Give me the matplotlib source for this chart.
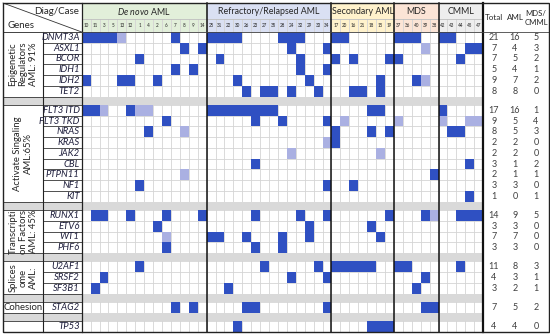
import numpy as np
import matplotlib
matplotlib.use("Agg")
import matplotlib.pyplot as plt
from matplotlib.patches import Rectangle
from matplotlib.colors import ListedColormap

plt.rcParams['font.family'] = ['Lato', 'DejaVu Sans']
plt.rcParams['mathtext.fontset'] = 'custom'
plt.rcParams['mathtext.rm'] = 'Lato'
plt.rcParams['mathtext.it'] = 'Lato:italic'

# ---------------- data ----------------
groups = ["$\\it{De\\ novo}$ AML", "Refractory/Relapsed AML", "Secondary AML", "MDS", "CMML"]
group_cases = [
    [10, 11, 3, 5, 13, 12, 1, 4, 2, 6, 7, 8, 9, 14],
    [25, 31, 22, 30, 26, 23, 27, 35, 28, 24, 32, 29, 33, 34],
    [17, 20, 16, 21, 18, 15, 19],
    [37, 36, 40, 39, 38],
    [42, 43, 44, 45, 47],
]
group_colors = ['#e2efda', '#dae0f3', '#fff2cc', '#fbe4d6', '#eeeeee']

row_genes = ["DNMT3A", "ASXL1", "BCOR", "IDH1", "IDH2", "TET2", None,
             "FLT3 ITD", "FLT3 TKD", "NRAS", "KRAS", "JAK2", "CBL", "PTPN11", "NF1", "KIT", None,
             "RUNX1", "ETV6", "WT1", "PHF6", None,
             "U2AF1", "SRSF2", "SF3B1", None,
             "STAG2", None,
             "TP53"]

categories = [
    ("Epigenetic\nRegulators\nAML: 91%", "DNMT3A", "TET2", 90),
    ("Activate Singaling\nAML:65%", "FLT3 ITD", "KIT", 90),
    ("Transcripti\non Factors\nAML: 45%", "RUNX1", "PHF6", 90),
    ("Splices\nome\nAML:", "U2AF1", "SF3B1", 90),
    ("Cohesion", "STAG2", "STAG2", 0),
    ("", "TP53", "TP53", 0),
]

# mutated cases (strong = dark blue, weak = light lavender)
strong = {
    "DNMT3A": [10, 11, 3, 5, 7, 25, 31, 22, 30, 28, 24, 32, 17, 20, 37, 36, 40, 42, 43],
    "ASXL1": [8, 14, 24, 34, 45, 47],
    "BCOR": [1, 31, 32, 17, 16, 19, 37, 44],
    "IDH1": [7, 9, 32, 34],
    "IDH2": [10, 13, 12, 2, 30, 29, 15, 40],
    "TET2": [26, 27, 35, 24, 33, 16, 21, 15],
    "FLT3 ITD": [10, 11, 12, 25, 31, 22, 30, 26, 23, 27, 35, 18, 15, 42],
    "FLT3 TKD": [6, 23, 28, 34],
    "NRAS": [4, 17, 18, 19, 43, 44],
    "KRAS": [17],
    "JAK2": [],
    "CBL": [23, 45],
    "PTPN11": [38],
    "NF1": [1, 34, 16],
    "KIT": [45],
    "RUNX1": [11, 3, 12, 6, 14, 23, 32, 34, 19, 39, 44, 45, 47],
    "ETV6": [2, 29, 18],
    "WT1": [25, 31, 26, 28, 29, 15],
    "PHF6": [6, 23, 28],
    "U2AF1": [1, 27, 33, 17, 20, 16, 21, 18, 37, 36, 44],
    "SRSF2": [3, 24, 34, 39],
    "SF3B1": [11, 22, 40],
    "STAG2": [7, 9, 26, 23, 34, 39, 38],
    "TP53": [30, 18, 15, 19],
}
weak = {
    "DNMT3A": [13],
    "ASXL1": [39],
    "IDH2": [39],
    "FLT3 ITD": [3, 1, 4],
    "FLT3 TKD": [20, 37, 42, 45, 47],
    "NRAS": [8],
    "KRAS": [34],
    "JAK2": [24, 15],
    "PTPN11": [8],
    "RUNX1": [38],
    "WT1": [6],
}

genes = [g for g in row_genes if g is not None]
total = [21, 7, 7, 5, 9, 8, 17, 9, 8, 2, 2, 3, 2, 3, 1, 14, 3, 7, 3, 11, 4, 3, 7, 4]
aml = [16, 4, 5, 4, 7, 8, 16, 5, 5, 2, 2, 1, 1, 3, 0, 9, 3, 7, 3, 8, 3, 2, 5, 4]
mds_cmml = [5, 3, 2, 1, 2, 0, 1, 4, 3, 0, 0, 2, 1, 0, 1, 5, 0, 0, 0, 3, 1, 1, 2, 0]

# ---------------- layout ----------------
DARK = '#2f50c2'
LIGHT = '#aab0e2'
SEP = '#d9d9d9'
GRIDC = '#d4d4d4'
TXT = '#262626'

X0, XCAT, XGRID, XRIGHT, XEND = 3.0, 43.0, 81.7, 483.1, 549.0
Y0, YCASE, YBODY = 3.0, 19.3, 32.0
ROW_H, SEP_H = 10.75, 8.4

cases = [c for grp in group_cases for c in grp]
ncol = len(cases)
col_w = (XRIGHT - XGRID) / ncol
xedges = XGRID + col_w * np.arange(ncol + 1)

heights = [ROW_H if g is not None else SEP_H for g in row_genes]
yedges = YBODY + np.concatenate([[0], np.cumsum(heights)])
YEND = yedges[-1]
row_top = {g: yedges[i] for i, g in enumerate(row_genes) if g is not None}
row_bot = {g: yedges[i + 1] for i, g in enumerate(row_genes) if g is not None}

fig = plt.figure(figsize=(5.5, 3.36), dpi=100)
ax = fig.add_axes([0, 0, 1, 1])
ax.set_xlim(0, 550)
ax.set_ylim(336, 0)
ax.axis('off')

# grid lines (under the cells)
for x in xedges:
    ax.plot([x, x], [YCASE, YEND], color=GRIDC, lw=0.6, zorder=1)
for y in yedges:
    ax.plot([XGRID, XRIGHT], [y, y], color=GRIDC, lw=0.6, zorder=1)

# matrix of mutation levels
mat = np.zeros((len(row_genes), ncol))
for i, g in enumerate(row_genes):
    if g is None:
        continue
    for c in weak.get(g, []):
        mat[i, cases.index(c)] = 1
    for c in strong.get(g, []):
        mat[i, cases.index(c)] = 2
cmap = ListedColormap([LIGHT, DARK])
ax.pcolormesh(xedges, yedges, np.ma.masked_equal(mat, 0), cmap=cmap, vmin=0.5, vmax=2.5,
              zorder=2, antialiased=False)

# separator rows
for i, g in enumerate(row_genes):
    if g is None:
        ax.add_patch(Rectangle((X0, yedges[i]), XRIGHT - X0, yedges[i + 1] - yedges[i],
                               facecolor=SEP, edgecolor='none', zorder=3))

# header groups
start = 0
for gname, gc, col in zip(groups, group_cases, group_colors):
    xa, xb = xedges[start], xedges[start + len(gc)]
    ax.add_patch(Rectangle((xa, Y0), xb - xa, YCASE - Y0, facecolor=col, edgecolor='none', zorder=0))
    ax.add_patch(Rectangle((xa, YCASE), xb - xa, YBODY - YCASE, facecolor=col, edgecolor='none', zorder=0))
    ax.text((xa + xb) / 2, (Y0 + YCASE) / 2 + 0.5, gname, ha='center', va='center', fontsize=6.4,
            color=TXT)
    start += len(gc)
ax.plot([XGRID, XRIGHT], [YCASE, YCASE], color='#bfbfbf', lw=0.6, zorder=2)
for j, c in enumerate(cases):
    ax.text((xedges[j] + xedges[j + 1]) / 2, (YCASE + YBODY) / 2, str(c), ha='center', va='center',
            fontsize=3.3, color=TXT)

# group boundary lines
start = 0
for k, gc in enumerate(group_cases):
    start += len(gc)
    lw = 1.6 if k == len(group_cases) - 1 else 1.1
    ax.plot([xedges[start], xedges[start]], [Y0, YEND], color='#111111', lw=lw, zorder=4)

# left columns
ax.plot([X0, XGRID], [Y0, YBODY], color='#333333', lw=0.6, zorder=4)
ax.text(XGRID - 3, 12, "Diag/Case", ha='right', va='center', fontsize=7, color=TXT)
ax.text(X0 + 4, 26, "Genes", ha='left', va='center', fontsize=7, color=TXT)

for g in genes:
    ax.text(XGRID - 2, (row_top[g] + row_bot[g]) / 2, g, ha='right', va='center',
            fontsize=6.8, style='italic', color='#1e1e3c', zorder=5)
for y in yedges:
    ax.plot([XCAT, XGRID], [y, y], color='#333333', lw=0.6, zorder=4)

for label, ga, gb, rot in categories:
    ya, yb = row_top[ga], row_bot[gb]
    ax.plot([X0, XCAT], [ya, ya], color='#333333', lw=0.6, zorder=4)
    ax.plot([X0, XCAT], [yb, yb], color='#333333', lw=0.6, zorder=4)
    ax.text((X0 + XCAT) / 2, (ya + yb) / 2, label, ha='center', va='center', rotation=rot,
            fontsize=6.8, color=TXT, linespacing=1.15, multialignment='center', zorder=5)

ax.plot([XCAT, XCAT], [YBODY, YEND], color='#222222', lw=0.8, zorder=4)
ax.plot([XGRID, XGRID], [Y0, YEND], color='#222222', lw=0.9, zorder=4)
ax.plot([X0, XEND], [YBODY, YBODY], color='#444444', lw=0.6, zorder=4)

# right table
xt = [494, 515, 536]
ax.text(xt[0], 18, "Total", ha='center', va='center', fontsize=5.8, color=TXT)
ax.text(xt[1], 18, "AML", ha='center', va='center', fontsize=5.8, color=TXT)
ax.text(xt[2], 18, "MDS/\nCMML", ha='center', va='center', fontsize=5.6, color=TXT,
        linespacing=1.3)
for g, a, b, c in zip(genes, total, aml, mds_cmml):
    yc = (row_top[g] + row_bot[g]) / 2
    for x, v in zip(xt, (a, b, c)):
        ax.text(x, yc, str(v), ha='center', va='center', fontsize=6.5, color='#404040')

# outer border
ax.add_patch(Rectangle((X0, Y0), XEND - X0, YEND - Y0, facecolor='none', edgecolor='#222222',
                       lw=1.0, zorder=6))

fig.savefig("out.png", dpi=100)
